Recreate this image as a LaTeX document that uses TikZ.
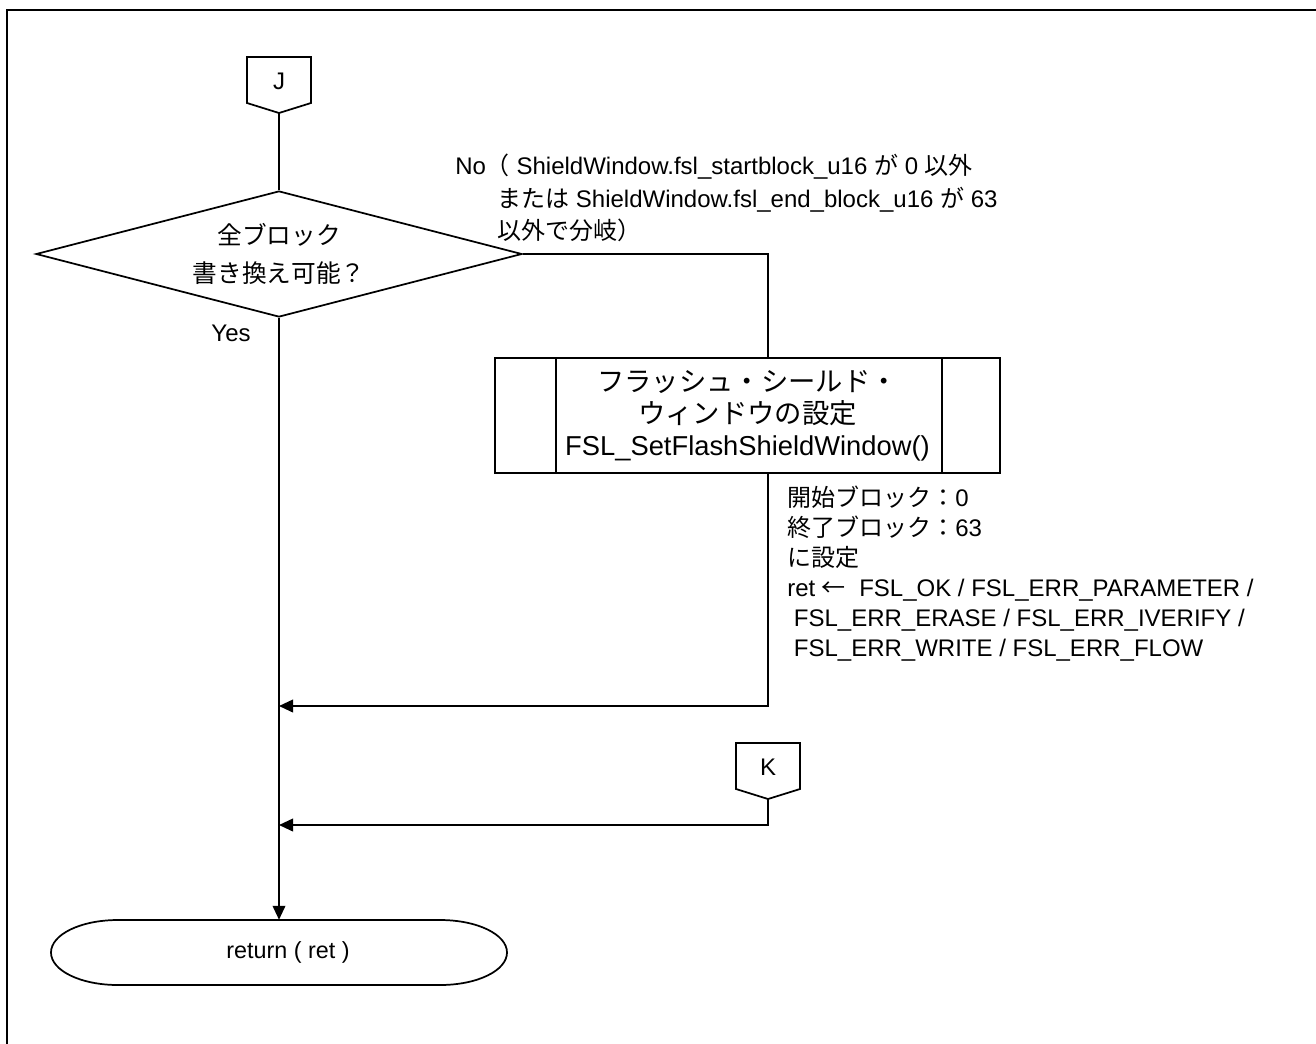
\documentclass[tikz,border=0pt]{standalone}
\usepackage{fontspec}
\setmainfont{Liberation Sans}
\newfontfamily\jafont{Noto Sans CJK JP}
\newcommand{\jtext}[1]{{\jafont #1}}
\usetikzlibrary{calc}
\usetikzlibrary{shapes.geometric, arrows.meta}

\tikzset{
  flowline/.style={line width=1.3pt},
  flowarrow/.style={flowline, -{Triangle[length=10.5pt, width=9.5pt]}},
  decision/.style={diamond, draw, flowline, aspect=3.86, inner sep=0pt,
    minimum width=364.5pt, minimum height=94.5pt, align=center,
    font=\fontsize{18.5}{28.5}\selectfont},
  subproc/.style={rectangle, draw, flowline, minimum width=378.75pt,
    minimum height=86.25pt, align=center, inner sep=0pt,
    font=\fontsize{20.5}{24}\selectfont},
  note/.style={align=left, inner sep=0pt, anchor=north west},
}

\begin{document}
\begin{tikzpicture}[x=0.75pt, y=-0.75pt, font=\fontsize{18}{22.5}\selectfont]%
  \useasboundingbox (0,0) rectangle (1316,1043);
  \draw[line width=2pt] (7,10) rectangle (1330,1060);

  % off-page connectors
  \foreach \name/\x/\y in {J/279/57, K/768/743} {
    \draw[flowline]
    (\x-32,\y) -- (\x+32,\y) -- (\x+32,\y+46) -- (\x,\y+56) -- (\x-32,\y+46) -- cycle;
    \node (\name) at (\x,\y+24) {\name};
    \coordinate (\name tip) at (\x,\y+56);
  }

  \node[decision] (chk) at (279,254)
    {\jtext{全ブロック}\\\jtext{書き換え可能？}};
  \node[subproc] (fsw) at (747.5,415.5)
    {\jtext{フラッシュ・シールド・}\\\jtext{ウィンドウの設定}\\FSL\_SetFlashShieldWindow()};
  \draw[flowline] ($(fsw.north west)+(62,0)$) -- ($(fsw.south west)+(62,0)$);
  \draw[flowline] ($(fsw.north east)+(-59,0)$) -- ($(fsw.south east)+(-59,0)$);

  \node[minimum width=342.75pt, minimum height=48.75pt, inner sep=0pt,
    font=\fontsize{17.5}{21}\selectfont] (ret) at (288,952.5) {return ( ret )};
  \draw[flowline]
  (118,920) -- (440,920)
  .. controls (477.5,920) and (507,934.5) .. (507,952.5)
  .. controls (507,970.5) and (477.5,985) .. (440,985)
  -- (118,985)
  .. controls (80.5,985) and (51,970.5) .. (51,952.5)
  .. controls (51,934.5) and (80.5,920) .. (118,920);

  \coordinate (join1) at (279,706);
  \coordinate (join2) at (279,825);

  % labels
  \node[note] (nolbl) at (455,154)
    {No\jtext{（} ShieldWindow.fsl\_startblock\_u16 \jtext{が} 0 \jtext{以外}};
  \node[note, font=\fontsize{18}{24}\selectfont] (nolbl2) at (497,187)
    {\jtext{または} ShieldWindow.fsl\_end\_block\_u16 \jtext{が} 63\\\jtext{以外で分岐）}};
  \node (yes) at (231,333) {Yes};
  \node[note] (setlbl) at (787,486)
    {\jtext{開始ブロック：}0\\
     \jtext{終了ブロック：}63\\
     \jtext{に設定}\\
     ret \jtext{←} \ FSL\_OK / FSL\_ERR\_PARAMETER /\\
     \ FSL\_ERR\_ERASE / FSL\_ERR\_IVERIFY /\\
     \ FSL\_ERR\_WRITE / FSL\_ERR\_FLOW};

  % connectors
  \draw[flowline] (Jtip) -- (chk.north);
  \draw[flowarrow] (chk.south) -- (chk.south |- ret.north);
  \draw[flowline] (chk.east) -| ($(fsw.north)+(20.5,0)$);
  \draw[flowarrow] ($(fsw.south)+(20.5,0)$) |- (join1);
  \draw[flowarrow] (Ktip) |- (join2);
\end{tikzpicture}
\end{document}
